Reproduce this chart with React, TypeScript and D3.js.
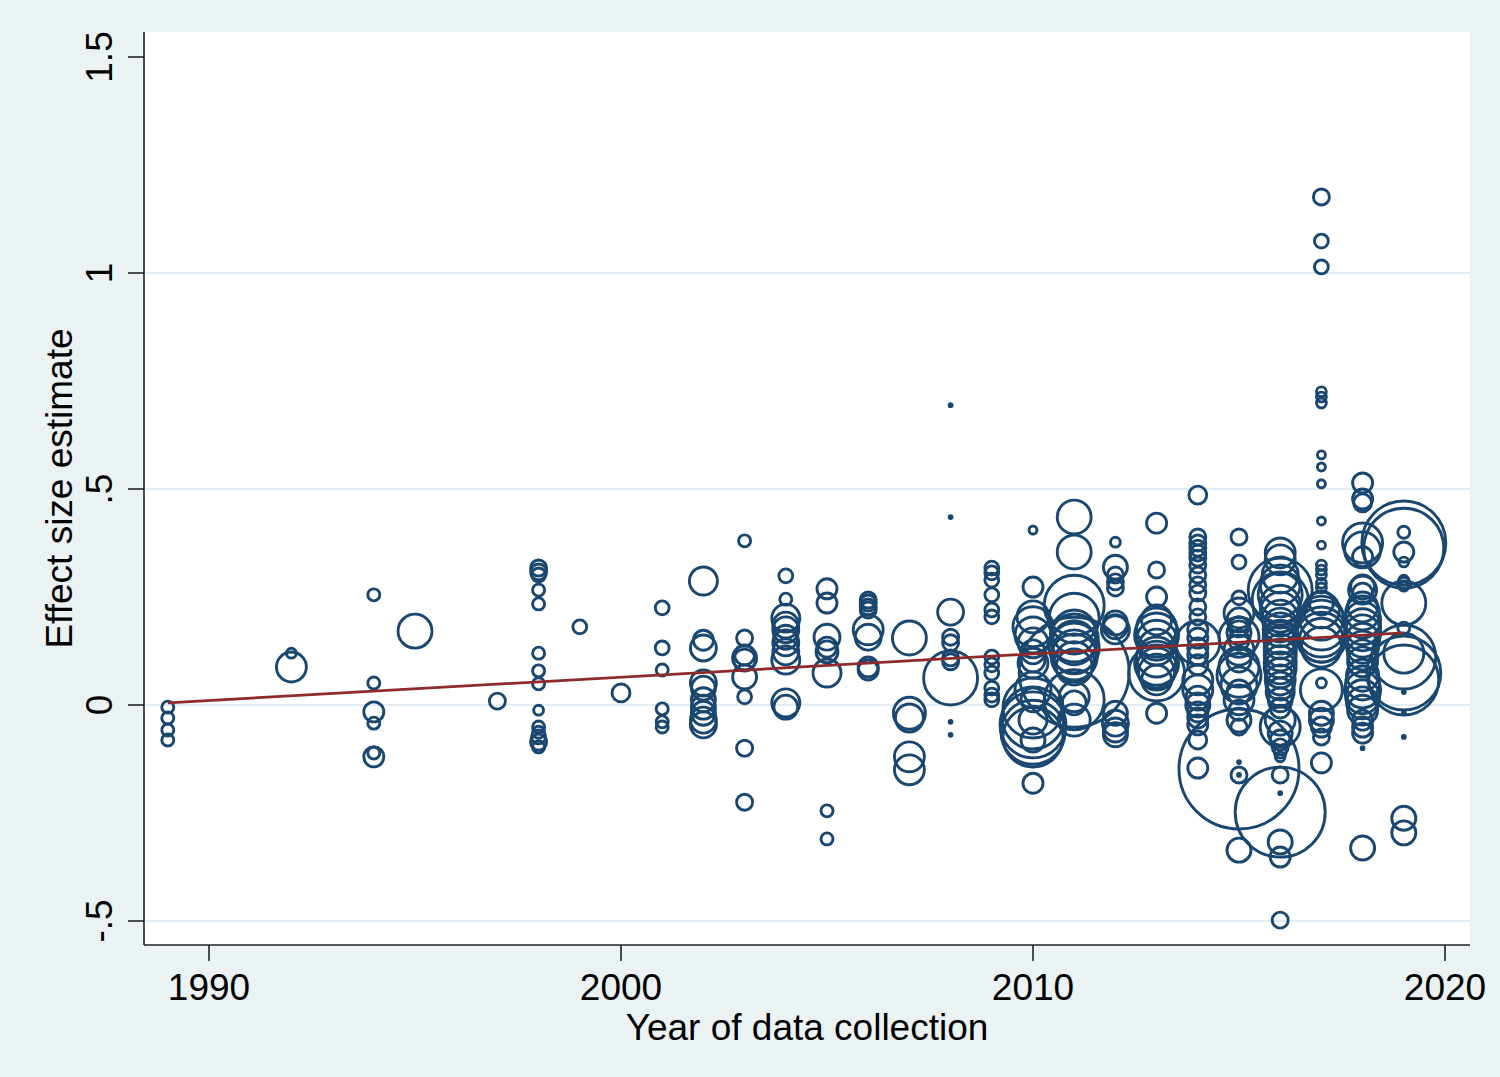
import React from 'react';
import * as d3 from 'd3';

// [effect size estimate, study weight] for each year of data collection
const y1989 = [[-0.005, 9], [-0.03, 9], [-0.058, 9], [-0.081, 9]];
const y1992 = [[0.088, 56], [0.12, 6]];
const y1994 = [[0.255, 9], [0.051, 9], [-0.016, 25], [-0.042, 9], [-0.12, 25], [-0.111, 9]];
const y1995 = [[0.171, 72]];
const y1997 = [[0.009, 16]];
const y1998 = [
  [0.317, 16], [0.308, 16], [0.301, 12], [0.266, 9], [0.234, 9], [0.12, 9], [0.079, 9],
  [0.049, 9], [-0.012, 6], [-0.051, 9], [-0.063, 9], [-0.074, 12], [-0.086, 16], [-0.097, 9],
];
const y1999 = [[0.181, 12]];
const y2000 = [[0.028, 20]];
const y2001 = [[0.225, 12], [0.132, 12], [0.081, 9], [-0.009, 9], [-0.039, 9], [-0.051, 9]];
const y2002 = [
  [0.287, 49], [0.15, 25], [0.132, 42], [0.051, 42], [0.039, 36], [0.012, 36],
  [-0.005, 36], [-0.019, 36], [-0.035, 42], [-0.046, 42],
];
const y2003 = [
  [0.38, 9], [0.155, 16], [0.116, 25], [0.109, 36], [0.104, 30], [0.065, 36],
  [0.019, 12], [-0.1, 16], [-0.225, 16],
];
const y2004 = [
  [0.299, 12], [0.245, 9], [0.201, 49], [0.185, 42], [0.174, 42], [0.157, 36],
  [0.144, 42], [0.123, 42], [0.104, 49], [0.005, 49], [-0.005, 36],
];
const y2005 = [
  [0.269, 25], [0.236, 25], [0.157, 42], [0.134, 25], [0.123, 30], [0.074, 49],
  [-0.245, 9], [-0.31, 9],
];
const y2006 = [
  [0.243, 16], [0.236, 16], [0.227, 16], [0.22, 16], [0.174, 56], [0.157, 42],
  [0.088, 25], [0.081, 25],
];
const y2007 = [[0.155, 72], [-0.019, 64], [-0.03, 49], [-0.12, 56], [-0.15, 56]];
const y2008 = [
  [0.694, 0.5], [0.435, 0.5], [0.215, 42], [0.157, 16], [0.144, 16], [0.109, 16],
  [0.1, 16], [0.0625, 182], [-0.039, 0.5], [-0.069, 0.5],
];
const y2009 = [
  [0.317, 12], [0.306, 12], [0.289, 12], [0.255, 12], [0.22, 12], [0.204, 12],
  [0.111, 12], [0.093, 12], [0.074, 12], [0.039, 12], [0.023, 12], [0.012, 12],
];
const y2010 = [
  [0.405, 4], [0.273, 25], [0.204, 64], [0.181, 100], [0.162, 81], [0.144, 56],
  [0.123, 36], [0.104, 36], [0.097, 56], [0.035, 81], [0.012, 36], [-0.007, 225],
  [-0.03, 240], [-0.046, 272], [-0.063, 256], [-0.074, 225], [-0.035, 49],
  [-0.081, 36], [-0.181, 25],
];
const y2011 = [
  [0.435, 72], [0.354, 72], [0.231, 225], [0.201, 156], [0.169, 121], [0.155, 144],
  [0.144, 121], [0.132, 156], [0.123, 121], [0.111, 132], [0.1, 100], [0.088, 81],
  [0.076, 756], [0.019, 56], [0.012, 225], [0.005, 36], [-0.035, 64],
];
const y2012 = [
  [0.377, 6], [0.319, 36], [0.301, 16], [0.285, 16], [0.271, 16], [0.19, 36],
  [0.181, 36], [0.174, 49], [-0.019, 36], [-0.042, 42], [-0.058, 36], [-0.069, 36],
];
const y2013 = [
  [0.421, 25], [0.3125, 16], [0.25, 25], [0.197, 56], [0.178, 100], [0.162, 121],
  [0.15, 100], [0.134, 81], [0.111, 100], [0.097, 121], [0.086, 100], [0.076, 81],
  [0.058, 56], [0.074, 196], [-0.019, 25],
];
const y2014 = [
  [0.486, 20], [0.389, 16], [0.375, 16], [0.363, 16], [0.352, 16], [0.34, 16],
  [0.324, 16], [0.301, 16], [0.278, 16], [0.259, 16], [0.227, 16], [0.204, 16],
  [0.174, 25], [0.155, 25], [0.144, 121], [0.132, 25], [0.116, 25], [0.093, 25],
  [0.058, 56], [0.035, 56], [0.016, 36], [0, 36], [-0.016, 25], [-0.03, 25],
  [-0.046, 25], [-0.081, 20], [-0.146, 25],
];
const y2015 = [
  [0.389, 16], [0.331, 12], [0.248, 12], [0.213, 56], [0.197, 36], [0.181, 25],
  [0.167, 36], [0.157, 100], [0.15, 25], [0.127, 56], [0.104, 36], [0.088, 100],
  [0.069, 121], [0.046, 81], [0.03, 36], [0.012, 56], [-0.012, 25], [-0.035, 36],
  [-0.051, 16], [-0.132, 0.5], [-0.162, 16], [-0.162, 0.5], [-0.148, 900], [-0.336, 36],
];
const y2016 = [
  [0.352, 56], [0.336, 56], [0.301, 81], [0.278, 100], [0.266, 256], [0.255, 121],
  [0.243, 196], [0.231, 100], [0.215, 100], [0.201, 81], [0.185, 72], [0.174, 72],
  [0.157, 72], [0.144, 64], [0.127, 64], [0.116, 64], [0.1, 64], [0.086, 64],
  [0.074, 56], [0.058, 56], [0.044, 49], [0.03, 49], [0.012, 36], [-0.007, 25],
  [-0.035, 56], [-0.051, 100], [-0.065, 36], [-0.081, 25], [-0.097, 16], [-0.109, 9],
  [-0.12, 6], [-0.162, 16], [-0.204, 0.5], [-0.248, 506], [-0.317, 36], [-0.352, 25],
  [-0.498, 16],
];
const y2017 = [
  [1.176, 16], [1.074, 12], [1.014, 12], [0.725, 6], [0.713, 6], [0.699, 6],
  [0.579, 4], [0.551, 4], [0.512, 4], [0.426, 4], [0.37, 4], [0.324, 6], [0.3125, 6],
  [0.301, 6], [0.282, 6], [0.271, 6], [0.236, 36], [0.22, 81], [0.201, 121],
  [0.185, 156], [0.169, 156], [0.157, 156], [0.15, 121], [0.134, 100], [0.051, 6],
  [0.035, 110], [-0.019, 36], [-0.035, 36], [-0.051, 25], [-0.074, 16], [-0.134, 25],
];
const y2018 = [
  [0.514, 25], [0.477, 25], [0.468, 20], [0.375, 100], [0.359, 81], [0.343, 25],
  [0.273, 36], [0.266, 49], [0.259, 25], [0.227, 56], [0.213, 72], [0.197, 81],
  [0.181, 81], [0.167, 81], [0.15, 72], [0.134, 64], [0.116, 56], [0.1, 56],
  [0.069, 64], [0.051, 72], [0.035, 81], [0.019, 72], [0.005, 64], [-0.012, 56],
  [-0.035, 25], [-0.051, 25], [-0.065, 25], [-0.1, 0.5], [-0.331, 36],
];
const y2019 = [
  [0.4, 9], [0.375, 441], [0.363, 400], [0.354, 25], [0.331, 6], [0.289, 6],
  [0.282, 9], [0.275, 6], [0.236, 121], [0.178, 9], [0.12, 100], [0.111, 256],
  [0.074, 342], [0.058, 306], [0.03, 0.5], [-0.019, 0.5], [-0.074, 0.5],
  [-0.262, 36], [-0.296, 36],
];

const collectionYears = [
  1989, 1992, 1994, 1995, 1997, 1998, 1999, 2000, 2001, 2002, 2003, 2004, 2005,
  2006, 2007, 2008, 2009, 2010, 2011, 2012, 2013, 2014, 2015, 2016, 2017, 2018, 2019,
];
const effectsByYear = [
  y1989, y1992, y1994, y1995, y1997, y1998, y1999, y2000, y2001, y2002, y2003, y2004,
  y2005, y2006, y2007, y2008, y2009, y2010, y2011, y2012, y2013, y2014, y2015, y2016,
  y2017, y2018, y2019,
];

// fitted meta-regression line
const fitYears = [1989, 2019];
const fitValues = [0.005, 0.167];

const xTicks = [1990, 2000, 2010, 2020];
const yTicks = [-0.5, 0, 0.5, 1, 1.5];
const yTickLabels = ['-.5', '0', '.5', '1', '1.5'];
const gridTicks = [-0.5, 0, 0.5, 1];

const App: React.FC = () => {
  const width = 1500;
  const height = 1077;
  const plot = { left: 144, right: 1470, top: 32, bottom: 945 };

  const x = d3.scaleLinear().domain([1990, 2020]).range([209, 1445]);
  const y = d3.scaleLinear().domain([-0.5, 1.5]).range([921, 57]);
  const r = d3.scaleSqrt().domain([0, 900]).range([0, 60]);

  const points = collectionYears.flatMap((yr, i) =>
    effectsByYear[i].map(([effect, weight]) => ({ year: yr, effect, weight }))
  );

  const fitLine = d3
    .line<number>()
    .x((d, i) => x(fitYears[i]))
    .y((d) => y(d));

  const font = '"Liberation Sans", Arial, Helvetica, sans-serif';
  const navy = '#1a476f';

  return (
    <svg width={width} height={height} style={{ display: 'block' }}>
      <style>{'body{margin:0}'}</style>
      <rect x={0} y={0} width={width} height={height} fill="#eaf2f3" />
      <rect
        x={plot.left}
        y={plot.top}
        width={plot.right - plot.left}
        height={plot.bottom - plot.top}
        fill="#ffffff"
      />

      {/* grid */}
      {gridTicks.map((t) => (
        <line
          key={`g${t}`}
          x1={plot.left}
          x2={plot.right}
          y1={y(t)}
          y2={y(t)}
          stroke="#e1ecf4"
          strokeWidth={2}
        />
      ))}

      {/* bubbles */}
      <g fill="none" stroke={navy} strokeWidth={2.9}>
        {points.map((p, i) => (
          <circle key={i} cx={x(p.year)} cy={y(p.effect)} r={r(p.weight)} />
        ))}
      </g>

      {/* fitted line */}
      <path d={fitLine(fitValues) || ''} fill="none" stroke="#8e2a2a" strokeWidth={2.8} />

      {/* axes */}
      <line x1={plot.left} x2={plot.left} y1={plot.top} y2={plot.bottom} stroke="#222" strokeWidth={1.6} />
      <line x1={plot.left} x2={plot.right} y1={plot.bottom} y2={plot.bottom} stroke="#222" strokeWidth={1.6} />

      {yTicks.map((t, i) => (
        <g key={`y${t}`}>
          <line x1={plot.left - 16} x2={plot.left} y1={y(t)} y2={y(t)} stroke="#222" strokeWidth={1.6} />
          <text
            transform={`translate(112,${y(t)}) rotate(-90)`}
            textAnchor="middle"
            fontFamily={font}
            fontSize={37}
            fill="#000"
          >
            {yTickLabels[i]}
          </text>
        </g>
      ))}

      {xTicks.map((t) => (
        <g key={`x${t}`}>
          <line x1={x(t)} x2={x(t)} y1={plot.bottom} y2={plot.bottom + 16} stroke="#222" strokeWidth={1.6} />
          <text x={x(t)} y={1000} textAnchor="middle" fontFamily={font} fontSize={37} fill="#000">
            {t}
          </text>
        </g>
      ))}

      <text
        x={(plot.left + plot.right) / 2}
        y={1040}
        textAnchor="middle"
        fontFamily={font}
        fontSize={37}
        fill="#000"
      >
        Year of data collection
      </text>
      <text
        transform={`translate(72,${(plot.top + plot.bottom) / 2}) rotate(-90)`}
        textAnchor="middle"
        fontFamily={font}
        fontSize={37}
        fill="#000"
      >
        Effect size estimate
      </text>
    </svg>
  );
};

export default App;
